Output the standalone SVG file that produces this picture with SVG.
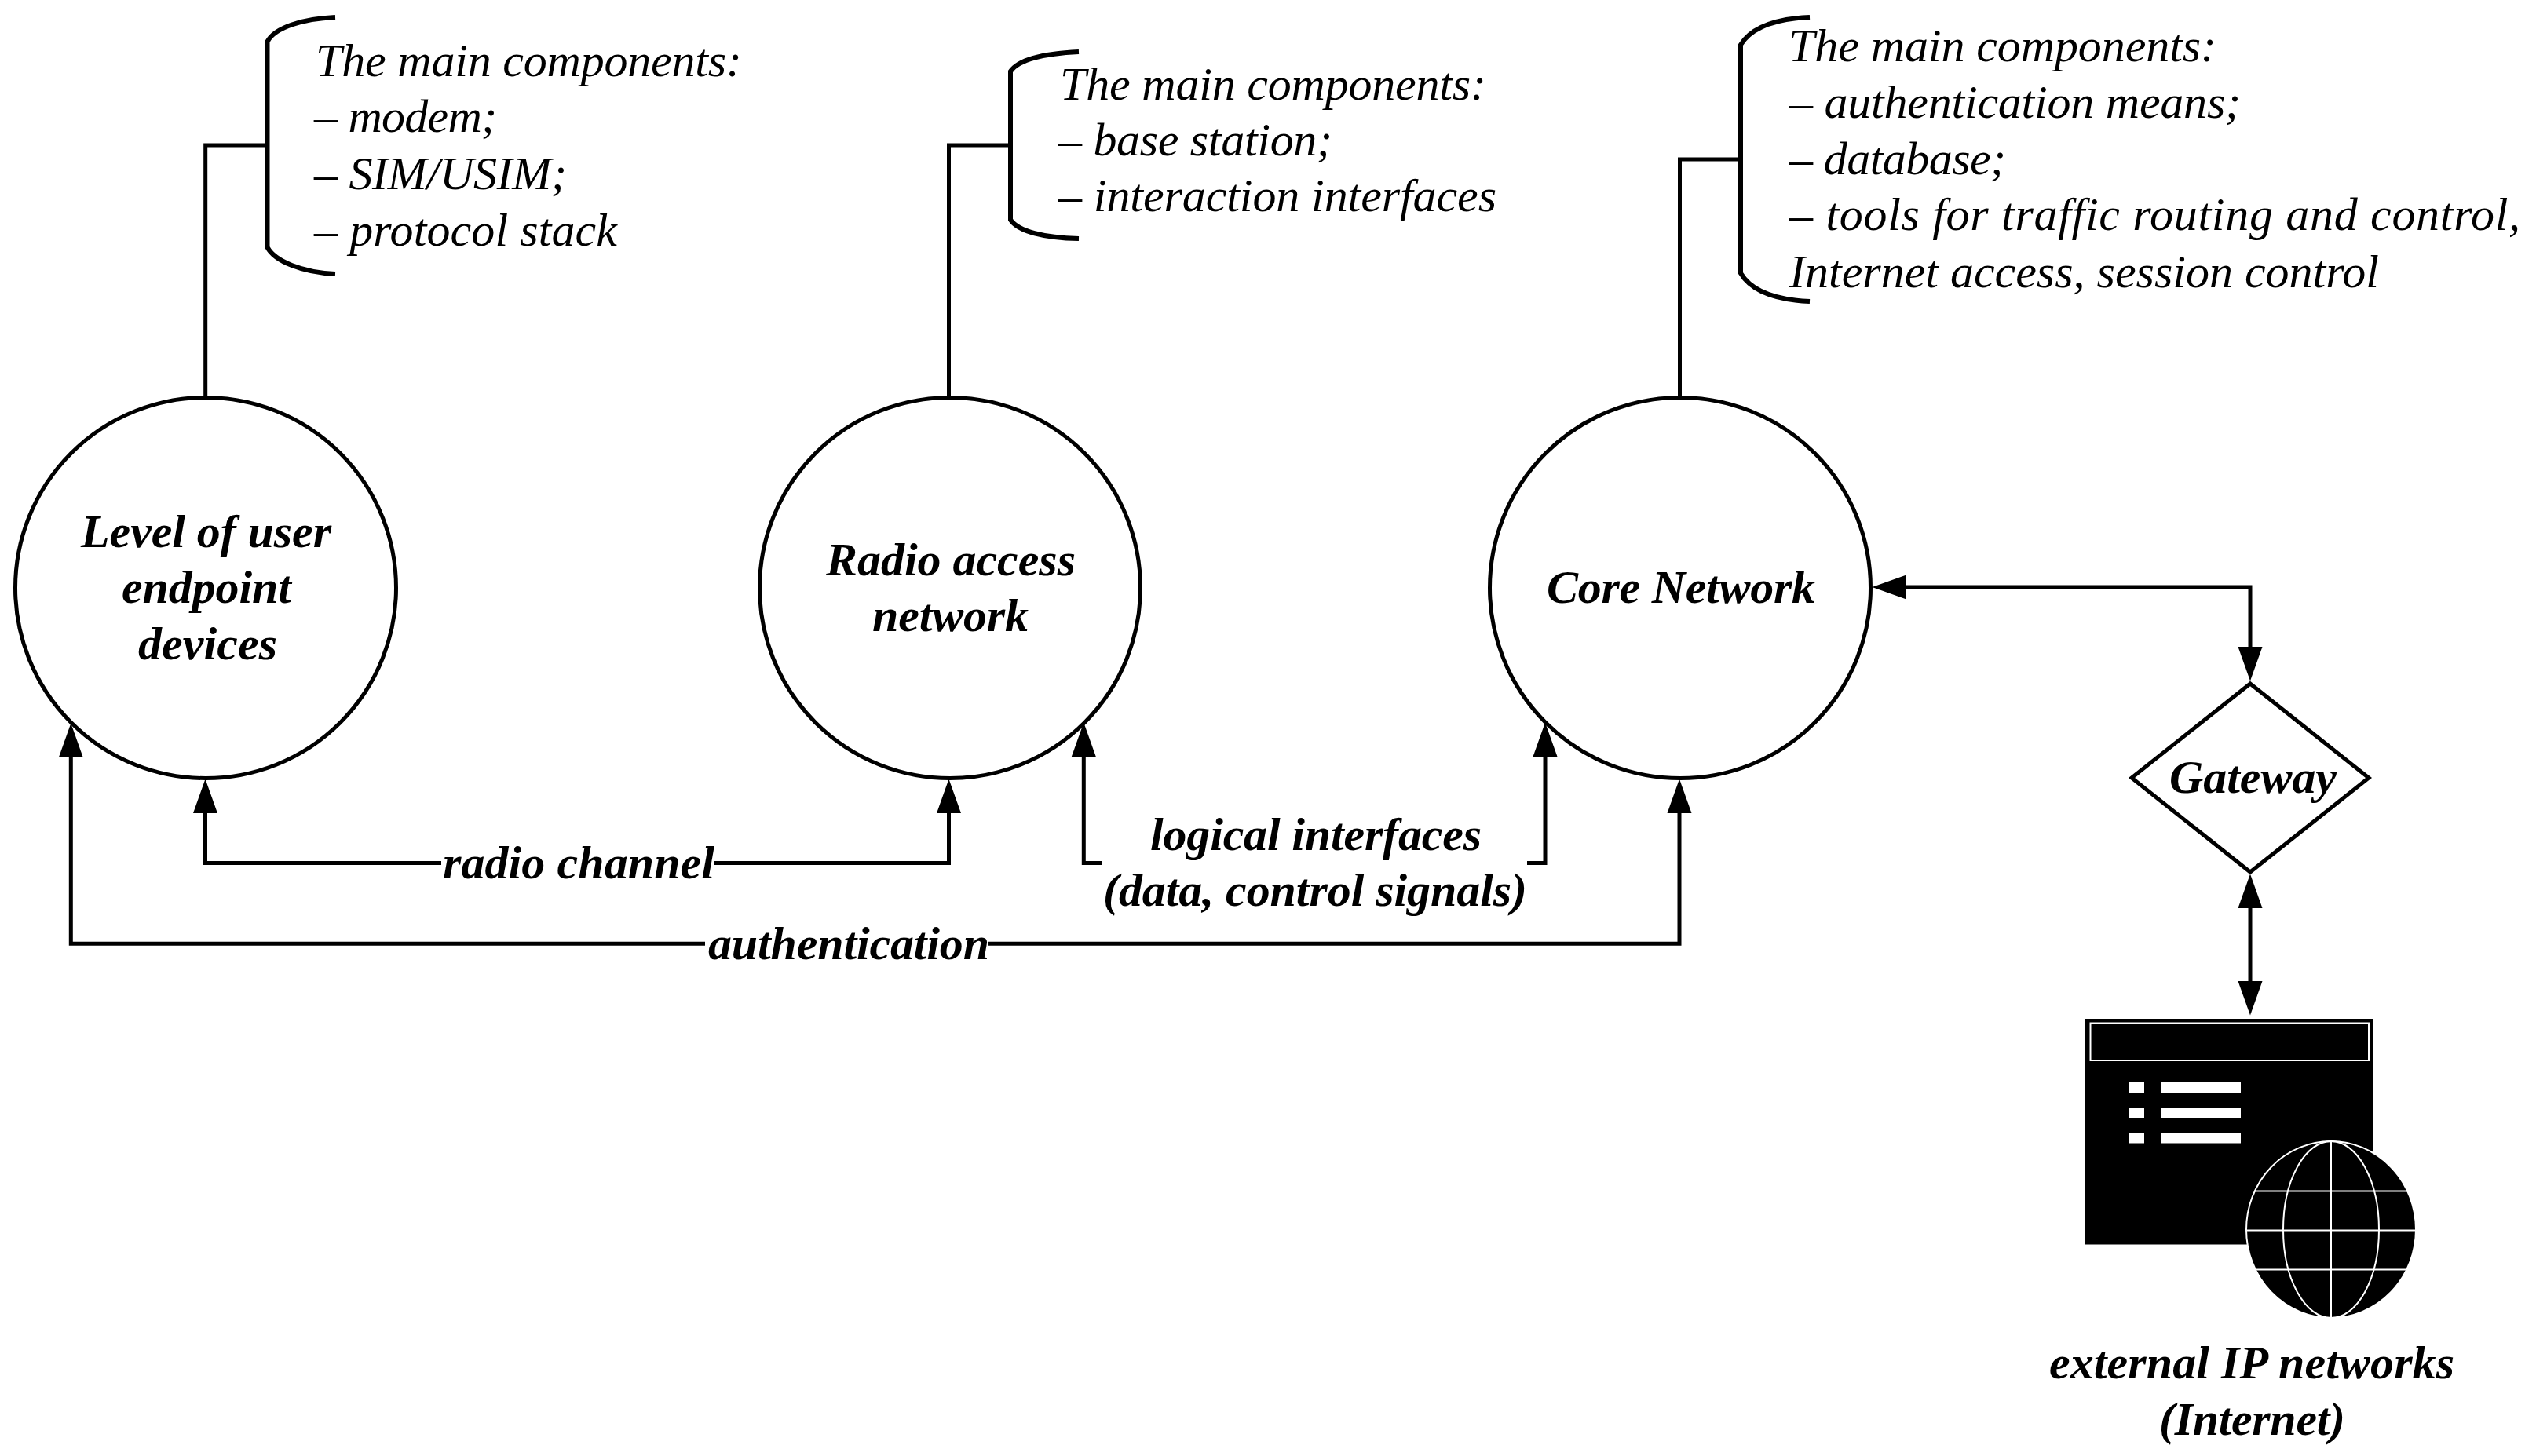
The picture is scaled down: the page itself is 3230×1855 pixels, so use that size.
<svg xmlns="http://www.w3.org/2000/svg" width="3230" height="1855" viewBox="0 0 3230 1855">
<style>
text{font-family:"Liberation Serif","Times New Roman",serif;font-style:italic;font-size:60px;fill:#000}
.b{font-weight:bold}
.line{fill:none;stroke:#000;stroke-width:5;stroke-linejoin:miter}
.arr{marker-end:url(#ah)}
.arrs{marker-start:url(#ahs)}
.brace{fill:none;stroke:#000;stroke-width:6}
.node{fill:#fff;stroke:#000;stroke-width:5}
.wl{fill:none;stroke:#fff;stroke-width:2}
.wf{fill:#fff}
</style>
<defs>
<marker id="ah" markerUnits="userSpaceOnUse" markerWidth="44" markerHeight="32" refX="0" refY="16" orient="auto" overflow="visible"><path d="M0 .5L43.500 16L0 31.500Z" fill="#000"/></marker>
<marker id="ahs" markerUnits="userSpaceOnUse" markerWidth="44" markerHeight="32" refX="0" refY="16" orient="auto-start-reverse" overflow="visible"><path d="M0 .5L43.500 16L0 31.500Z" fill="#000"/></marker>
</defs>
<rect width="3230" height="1855" fill="#fff"/>
<g id="connectors">
<path class="line" d="M261.700 505V185H340"/>
<path class="line" d="M1208.500 505V185H1287"/>
<path class="line" d="M2139.500 505V203H2217"/>
<path class="line arrs" d="M261.500 1036V1099.500H562"/>
<path class="line arr" d="M910 1099.500H1208.500V1036"/>
<path class="line arrs" d="M90.300 965V1202.300H898"/>
<path class="line arr" d="M1258 1202.300H2139V1036"/>
<path class="line arrs" d="M1380.300 964V1099.500H1404"/>
<path class="line arr" d="M1945 1099.500H1968V964"/>
<path class="line arrs arr" d="M2428 748H2866V824"/>
<path class="line arrs arr" d="M2866 1157V1250"/>
</g>
<g id="node-user">
<circle class="node" cx="262" cy="749" r="242.500"/>
<text class="b" x="103" y="696.500" textLength="319">Level of user</text>
<text class="b" x="155" y="768" textLength="216">endpoint</text>
<text class="b" x="176" y="840" textLength="177">devices</text>
</g>
<g id="node-ran">
<circle class="node" cx="1210" cy="749" r="242.500"/>
<text class="b" x="1052" y="733" textLength="318">Radio access</text>
<text class="b" x="1111" y="804" textLength="199">network</text>
</g>
<g id="node-core">
<circle class="node" cx="2140" cy="749" r="242.500"/>
<text class="b" x="1970" y="768" textLength="342">Core Network</text>
</g>
<g id="node-gateway">
<path class="node" d="M2866 871L3017 991L2866 1111L2715 991Z"/>
<text class="b" x="2763" y="1010" textLength="213">Gateway</text>
</g>
<g id="node-internet">
<rect x="2656" y="1298" width="367" height="287.500" fill="#000"/>
<rect class="wl" x="2662.500" y="1303.500" width="354.500" height="47.500"/>
<path class="wf" d="M2712 1379h19v13h-19zM2712 1412h19v12h-19zM2712 1444h19v12.500h-19zM2752 1379h102v13h-102zM2752 1412h102v12h-102zM2752 1444h102v12.500h-102z"/>
<ellipse cx="2969" cy="1566.500" rx="108" ry="112.500" fill="#000" stroke="#fff" stroke-width="2"/>
<ellipse class="wl" cx="2969" cy="1566.500" rx="61" ry="112.500"/>
<path class="wl" d="M2969 1454V1679M2871 1517.500H3067M2861 1567.500H3077M2871 1617.500H3067"/>
<text class="b" x="2610" y="1755.500" textLength="516">external IP networks</text>
<text class="b" x="2750" y="1828" textLength="237">(Internet)</text>
</g>
<g id="labels">
<text class="b" x="564" y="1119" textLength="346">radio channel</text>
<text class="b" x="902" y="1222" textLength="358">authentication</text>
<text class="b" x="1465" y="1083" textLength="422">logical interfaces</text>
<text class="b" x="1405" y="1154" textLength="540">(data, control signals)</text>
</g>
<g id="note-user">
<path class="brace" d="M427 22C385 24 350 35 340.500 53V315C350 333 385 347 427 349"/>
<text x="402" y="97" textLength="543">The main components:</text>
<text x="400" y="168" textLength="233">– modem;</text>
<text x="400" y="241" textLength="322">– SIM/USIM;</text>
<text x="400" y="313" textLength="386">– protocol stack</text>
</g>
<g id="note-ran">
<path class="brace" d="M1374 66C1330 68 1297 76 1287 91V280C1297 295 1330 303 1374 304"/>
<text x="1350" y="127" textLength="543">The main components:</text>
<text x="1348" y="198" textLength="349">– base station;</text>
<text x="1348" y="269" textLength="558">– interaction interfaces</text>
</g>
<g id="note-core">
<path class="brace" d="M2305 22C2260 24 2230 36 2217 57V348C2230 370 2260 382 2305 384"/>
<text x="2278" y="78" textLength="545">The main components:</text>
<text x="2279" y="150" textLength="575">– authentication means;</text>
<text x="2279" y="222" textLength="276">– database;</text>
<text x="2279" y="293" textLength="931">– tools for traffic routing and control,</text>
<text x="2279" y="366" textLength="751">Internet access, session control</text>
</g>
</svg>
